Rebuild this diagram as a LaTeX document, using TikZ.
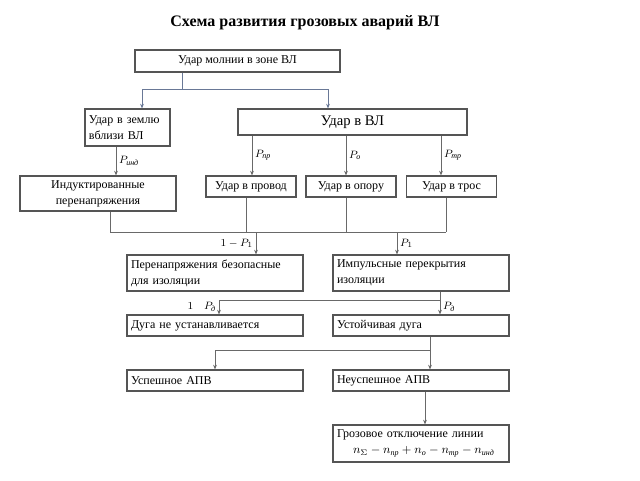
\documentclass[tikz,border=0pt]{standalone}
\usepackage{amsmath}
\usepackage{fontspec}
\setmainfont{Liberation Serif}
\usepackage{tikz}
\usetikzlibrary{arrows.meta,calc}

\definecolor{boxgray}{RGB}{85,85,85}
\definecolor{linegray}{RGB}{105,105,105}
\definecolor{topblue}{RGB}{105,120,150}
\newcommand{\cyi}[1]{\text{\itshape #1}}

\begin{document}
\begin{tikzpicture}[%
		x=0.75pt, y=-0.75pt,
		font=\fontsize{9}{12}\selectfont,
		box/.style={draw=boxgray, line width=0.9pt, inner sep=0pt, minimum height=15.75pt},
		lbox/.style={box, align=left, text width=126pt, inner xsep=3pt},
		conn/.style={draw=linegray, line width=0.6pt},
		arr/.style={conn, -{Stealth[length=3.5pt,width=2.8pt]}},
		prob/.style={font=\fontsize{8}{9}\selectfont, inner sep=2pt}
		]

		\useasboundingbox (0,0) rectangle (640,480);

		\node[font=\bfseries\fontsize{12}{14}\selectfont] (titel) at (305,23) {Схема развития грозовых аварий ВЛ};

		%% Blöcke
		\node[box, minimum width=153.75pt, minimum height=16.5pt] (molnija) at (237.5,61) {Удар молнии в зоне ВЛ};
		\node[box, align=left, text width=57.75pt, inner xsep=3pt, minimum height=27.75pt] (zemlja) at (127.5,127.5) {Удар в землю\\вблизи ВЛ};
		\node[box, minimum width=171.75pt, minimum height=19.5pt, font=\fontsize{11}{13}\selectfont] (udarvl) at (352.5,122) {Удар в ВЛ};

		\node[box, align=center, minimum width=117pt, minimum height=26.25pt] (indukt) at (98,193.5) {Индуктированные\\перенапряжения};
		\node[box, minimum width=67.5pt] (provod) at (251,186.5) {Удар в провод};
		\node[box, minimum width=67.5pt] (opora) at (351,186.5) {Удар в опору};
		\node[box, minimum width=67.5pt] (tros) at (451.5,186.5) {Удар в трос};

		\node[lbox, minimum height=27pt] (bezop) at (215,273) {Перенапряжения безопасные\\для изоляции};
		\node[lbox, minimum height=27pt] (impuls) at (421,273) {Импульсные перекрытия\\изоляции};

		\node[lbox] (dugane) at (215,325.5) {Дуга не устанавливается};
		\node[lbox] (duga) at (421,325.5) {Устойчивая дуга};

		\node[lbox] (apvok) at (215,380.5) {Успешное АПВ};
		\node[lbox] (apvne) at (421,380.5) {Неуспешное АПВ};

		\node[lbox, minimum height=27.75pt] (otkl) at (421,443.5) {Грозовое отключение линии\\\hspace*{12pt}$n_\Sigma - n_{\cyi{пр}} + n_{\cyi{о}} - n_{\cyi{тр}} - n_{\cyi{инд}}$};

		%% Verzweigung oben
		\coordinate (s1) at (182,89);
		\coordinate (s1l) at (142,89);
		\coordinate (s1r) at (328,89);
		\draw[conn, draw=topblue] (molnija.south -| s1) -- (s1);
		\draw[conn, draw=topblue] (s1l) -- (s1r);
		\draw[arr, draw=topblue] (s1l) -- (s1l |- zemlja.north);
		\draw[arr, draw=topblue] (s1r) -- (s1r |- udarvl.north);

		\coordinate (xi) at (116,0);
		\draw[arr] (zemlja.south -| xi) -- node[prob, right]{$P_{\cyi{инд}}$} (indukt.north -| xi);

		\foreach \x/\ziel/\p in {252/provod/пр, 346/opora/о, 441/tros/тр} {
			\coordinate (xv) at (\x,0);
			\draw[arr] (udarvl.south -| xv) -- node[prob, right]{$P_{\cyi{\p}}$} (\ziel.north -| xv);
		}

		%% Sammelschiene
		\coordinate (b1) at (110,232);
		\coordinate (b2) at (446,232);
		\draw[conn] (b1) -- (b2);
		\draw[conn] (indukt.south -| b1) -- (b1);
		\foreach \x/\quelle in {246/provod, 346/opora, 446/tros} {
			\coordinate (xb) at (\x,232);
			\draw[conn] (\quelle.south -| xb) -- (xb);
		}
		\coordinate (b3) at (256,232);
		\coordinate (b4) at (397,232);
		\draw[arr] (b3) -- node[prob, left]{$1-P_1$} (b3 |- bezop.north);
		\draw[arr] (b4) -- node[prob, right]{$P_1$} (b4 |- impuls.north);

		%% Dugа
		\coordinate (d1) at (440,300);
		\coordinate (d2) at (219,300);
		\draw[conn] (impuls.south -| d1) -- (d1) -- (d2);
		\draw[arr] (d2) -- node[prob, left]{$1\quad P_{\cyi{д}}$} (d2 |- dugane.north);
		\draw[arr] (d1) -- node[prob, right]{$P_{\cyi{д}}$} (d1 |- duga.north);

		%% APV
		\coordinate (a1) at (430,350);
		\coordinate (a2) at (215,350);
		\draw[conn] (duga.south -| a1) -- (a1) -- (a2);
		\draw[arr] (a2) -- (a2 |- apvok.north);
		\draw[arr] (a1) -- (a1 |- apvne.north);

		\coordinate (xo) at (425,0);
		\draw[arr] (apvne.south -| xo) -- (otkl.north -| xo);
\end{tikzpicture}
\end{document}
